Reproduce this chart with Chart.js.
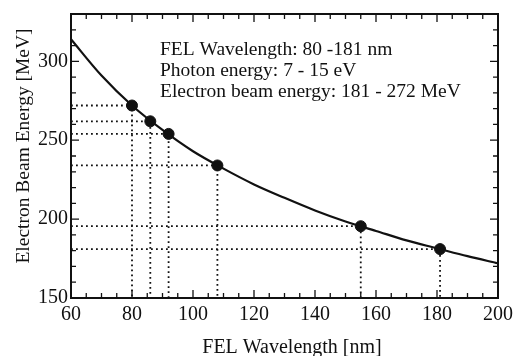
<!DOCTYPE html>
<html>
<head>
<meta charset="utf-8">
<script src="https://cdn.jsdelivr.net/npm/chart.js@4"></script>
<style>
  html, body { margin: 0; padding: 0; background: #fff; }
  #wrap { width: 514px; height: 356px; }
</style>
</head>
<body>
<div id="wrap"><canvas id="myChart" width="514" height="356"></canvas></div>
<script>
// curve (wavelength nm -> beam energy MeV)
const curveX = [60, 70, 80, 90, 100, 110, 120, 130, 140, 150, 160, 170, 180, 190, 200];
const curveY = [314, 291, 272, 256.5, 243, 232, 222, 213.5, 205.5, 198.5, 192.5, 186.5, 181.5, 176.5, 172];

// marked operating points
const pointX = [80, 86, 92, 108, 155, 181];
const pointY = [272, 262, 254, 234, 195.5, 181];

const xTicks = [60, 80, 100, 120, 140, 160, 180, 200];
const yTicks = [150, 200, 250, 300];

const notes = [
    'FEL Wavelength: 80 -181 nm',
    'Photon energy: 7 - 15 eV',
    'Electron beam energy: 181 - 272 MeV'
];
const xTitle = 'FEL Wavelength [nm]';
const yTitle = 'Electron Beam Energy [MeV]';

const serif = '"Liberation Serif", "DejaVu Serif", serif';
const X_MIN = 60, X_MAX = 200, Y_MIN = 150, Y_MAX = 330;

// dotted guides from every point to the left and bottom axes
const guides = pointX.map((x, i) => ({
    type: 'line',
    data: [{x: X_MIN, y: pointY[i]}, {x: x, y: pointY[i]}, {x: x, y: Y_MIN}],
    borderColor: '#111',
    borderWidth: 1.8,
    borderDash: [1.8, 3.2],
    pointRadius: 0,
    fill: false,
    tension: 0
}));

// box, inward ticks, axis titles and the text block
const framePlugin = {
    id: 'frame',
    afterDraw(chart) {
        const ctx = chart.ctx;
        const a = chart.chartArea;
        const xs = chart.scales.x, ys = chart.scales.y;
        ctx.save();
        ctx.strokeStyle = '#111';
        ctx.lineWidth = 2;
        ctx.strokeRect(a.left, a.top, a.right - a.left, a.bottom - a.top);

        ctx.lineWidth = 1.3;
        ctx.beginPath();
        for (let v = X_MIN; v <= X_MAX; v += 5) {
            const px = xs.getPixelForValue(v);
            const len = v % 20 === 0 ? 8 : 5;
            ctx.moveTo(px, a.bottom); ctx.lineTo(px, a.bottom - len);
            ctx.moveTo(px, a.top); ctx.lineTo(px, a.top + len);
        }
        for (let v = Y_MIN; v <= Y_MAX; v += 10) {
            const py = ys.getPixelForValue(v);
            const len = v % 50 === 0 ? 8 : 5;
            ctx.moveTo(a.left, py); ctx.lineTo(a.left + len, py);
            ctx.moveTo(a.right, py); ctx.lineTo(a.right - len, py);
        }
        ctx.stroke();

        ctx.fillStyle = '#111';
        ctx.font = '19.5px ' + serif;
        ctx.textBaseline = 'alphabetic';
        ctx.textAlign = 'left';
        notes.forEach((t, i) => ctx.fillText(t, 160, 55 + i * 21));

        ctx.font = '20px ' + serif;
        ctx.textAlign = 'center';
        ctx.fillText(xTitle, 292, 353);

        ctx.font = '19.5px ' + serif;
        ctx.translate(29, 146);
        ctx.rotate(-Math.PI / 2);
        ctx.fillText(yTitle, 0, 0);
        ctx.restore();
    }
};

const ctx = document.getElementById('myChart').getContext('2d');
new Chart(ctx, {
    type: 'scatter',
    data: {
        datasets: [
            ...guides,
            {
                type: 'line',
                data: curveX.map((x, i) => ({x: x, y: curveY[i]})),
                borderColor: '#111',
                borderWidth: 2.2,
                pointRadius: 0,
                cubicInterpolationMode: 'monotone',
                fill: false
            },
            {
                data: pointX.map((x, i) => ({x: x, y: pointY[i]})),
                backgroundColor: '#111',
                borderColor: '#111',
                pointRadius: 5.5
            }
        ]
    },
    options: {
        responsive: false,
        animation: false,
        layout: { padding: { top: 14, right: 16, left: 0, bottom: 0 } },
        plugins: {
            legend: { display: false },
            tooltip: { enabled: false }
        },
        scales: {
            x: {
                type: 'linear',
                min: X_MIN, max: X_MAX,
                afterBuildTicks: s => { s.ticks = xTicks.map(v => ({value: v})); },
                afterFit: s => { s.height = 58; s.paddingLeft = 0; s.paddingRight = 0; },
                grid: { display: false, drawTicks: false },
                border: { display: false },
                ticks: { color: '#111', font: { family: serif, size: 20 }, padding: 5, maxRotation: 0 }
            },
            y: {
                type: 'linear',
                min: Y_MIN, max: Y_MAX,
                afterBuildTicks: s => { s.ticks = yTicks.map(v => ({value: v})); },
                afterFit: s => { s.width = 71; s.paddingTop = 0; s.paddingBottom = 0; },
                grid: { display: false, drawTicks: false },
                border: { display: false },
                ticks: { color: '#111', font: { family: serif, size: 20 }, padding: 3 }
            }
        }
    },
    plugins: [framePlugin]
});
</script>
</body>
</html>
